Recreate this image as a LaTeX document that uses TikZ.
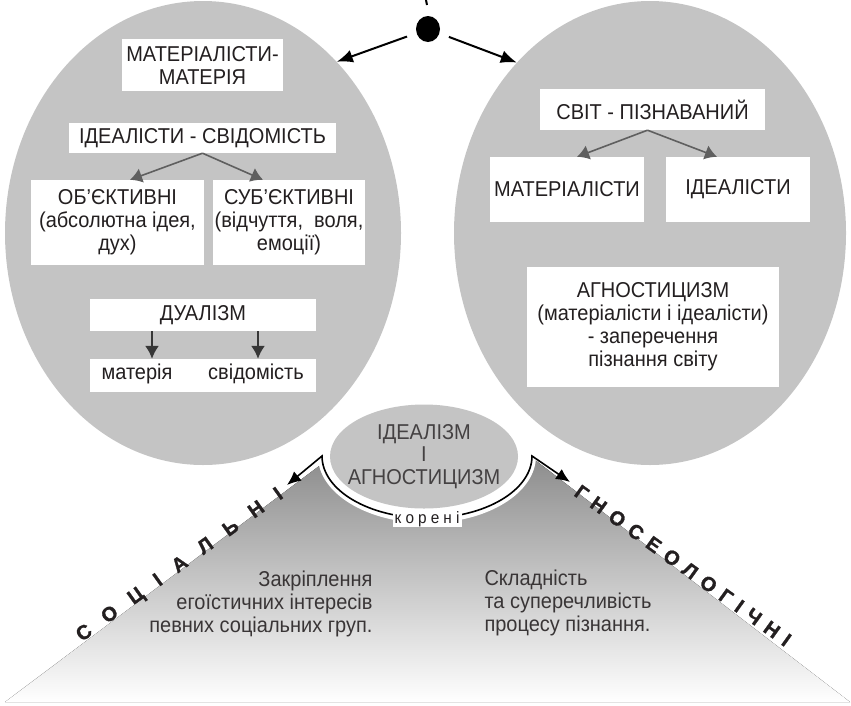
\documentclass[tikz,border=0pt]{standalone}
\usepackage{fontspec}
\setmainfont{Liberation Sans}[FakeStretch=0.93]
\newfontfamily\heavyfont{Liberation Sans Bold}[FakeBold=1.2]
\usetikzlibrary{shapes.geometric,arrows.meta,calc}
\definecolor{shade}{RGB}{196,196,196}
\definecolor{ink}{RGB}{35,31,32}
\definecolor{branchgray}{RGB}{95,95,95}
\definecolor{dualgray}{RGB}{55,55,55}
\begin{document}
\begin{tikzpicture}[x=1pt,y=-1pt,
    font=\fontsize{21.5}{23}\selectfont,
    box/.style={fill=white,inner sep=0pt,align=center,text=ink},
    blob/.style={ellipse,fill=shade,inner sep=0pt},
    branch/.style={branchgray,line width=1.6pt,-{Latex[length=12pt,width=15pt]}},
    split/.style={dualgray,line width=2pt,-{Latex[length=13pt,width=14pt]}},
    toparrow/.style={black,line width=2pt,-{Latex[length=16pt,width=13pt]},shorten <=10pt},
    rootarrow/.style={black,line width=1.6pt,{Latex[length=14pt,width=12pt]}-{Latex[length=14pt,width=12pt]}},
    edgeword/.style={text=ink,inner sep=0pt,text height=14pt,text depth=0pt}]
        \useasboundingbox (0,0) rectangle (851,705);

        \coordinate (lend) at (287,485);
        \coordinate (rend) at (570,482);
        \coordinate (rootl) at (322,456);
        \coordinate (cut) at (426,0);
        \coordinate (mx) at (152,0);
        \coordinate (sx) at (258,0);

        % triangle and the hole round the middle
        \fill[shade] (5,702) -- (367,430) -- (496,430) -- (850,702) -- cycle;
        \node[ellipse,fill=white,inner sep=0pt,minimum width=218pt,minimum height=134pt] (hole) at (427,456) {};

        \node[blob,minimum width=396pt,minimum height=464pt] (lell) at (203,233) {};
        \node[blob,minimum width=392pt,minimum height=464pt] (rell) at (650,233) {};
        \node[blob,minimum width=188pt,minimum height=104pt] (cell) at (424,456.5) {};
        \node[text=ink!85,align=center,font=\fontsize{21.5}{22.5}\selectfont] (celltext) at (cell) {ІДЕАЛІЗМ\\І\\АГНОСТИЦИЗМ};

        \node[ellipse,fill=black,inner sep=0pt,minimum width=24pt,minimum height=26pt] (top) at (428,29) {};
        \draw[line width=2pt] (cut) -- ++(1,5);
        \draw[toparrow] (top) -- (lell.52);
        \draw[toparrow] (top) -- (rell.128);

        % left
        \node[box,minimum width=161pt,minimum height=52pt] (matmat) at (202.5,65) {МАТЕРІАЛІСТИ-\\МАТЕРІЯ};
        \node[box,minimum width=267pt,minimum height=30pt] (idcon) at (202.5,138) {ІДЕАЛІСТИ - СВІДОМІСТЬ};
        \node[box,minimum width=173pt,minimum height=85pt] (obj) at (117.5,222.5) {ОБ’ЄКТИВНІ\\(абсолютна ідея,\\дух)};
        \node[box,minimum width=152pt,minimum height=85pt] (subj) at (289,222.5) {СУБ’ЄКТИВНІ\\(відчуття,\ \ воля,\\емоції)};
        \node[box,minimum width=226pt,minimum height=32pt] (dual) at (203,315) {ДУАЛІЗМ};
        \node[box,minimum width=226pt,minimum height=33pt] (pair) at (203,375.5) {};
        \node[text=ink] (matter) at (137,374) {матерія};
        \node[text=ink] (mind) at (256,374) {свідомість};

        \draw[branch] (idcon.south) -- ($(obj.north)+(12.5,0)$);
        \draw[branch] (idcon.south) -- ($(subj.north)+(-26,0)$);
        \draw[split] (dual.south -| mx) -- (pair.north -| mx);
        \draw[split] (dual.south -| sx) -- (pair.north -| sx);

        % right
        \node[box,minimum width=225pt,minimum height=41pt] (world) at (652.5,109.5) {СВІТ - ПІЗНАВАНИЙ};
        \node[box,minimum width=154pt,minimum height=65pt] (rmat) at (567,189.5) {МАТЕРІАЛІСТИ};
        \node[box,minimum width=144pt,minimum height=65pt] (rid) at (738,189.5) {ІДЕАЛІСТИ};
        \node[box,minimum width=252pt,minimum height=120pt] (agn) at (653,327) {АГНОСТИЦИЗМ\\(матеріалісти і ідеалісти)\\- заперечення\\пізнання світу};

        \draw[branch] ($(world.south)+(-5,0)$) -- ($(rmat.north)+(10,0)$);
        \draw[branch] ($(world.south)+(-5,0)$) -- ($(rid.north)+(-21,0)$);

        % roots
        \draw[rootarrow] (lend) -- (rootl) arc[start angle=180,end angle=0,x radius=105,y radius=62] -- (rend);
        \node[fill=white,inner xsep=2pt,inner ysep=0pt,text=ink,font=\fontsize{16.5}{16.5}\selectfont\addfontfeature{LetterSpace=25}] (roots) at (427,519) {корені};

        \node[text=ink!90,align=right,anchor=east] (soctext) at (376,604) {Закріплення\\егоїстичних інтересів\\певних соціальних груп.};
        \node[text=ink!90,align=left,anchor=west] (gnotext) at (481,603) {Складність\\та суперечливість\\процесу пізнання.};

        \node[edgeword,rotate=35.6,font=\fontsize{20}{20}\heavyfont\addfontfeature{LetterSpace=85}] (social) at (179,564) {СОЦІАЛЬНІ};
        \node[edgeword,rotate=-35.7,font=\fontsize{20}{20}\heavyfont\addfontfeature{LetterSpace=40}] (gnoseo) at (683,565.5) {ГНОСЕОЛОГІЧНІ};

    \end{tikzpicture}
\end{document}
